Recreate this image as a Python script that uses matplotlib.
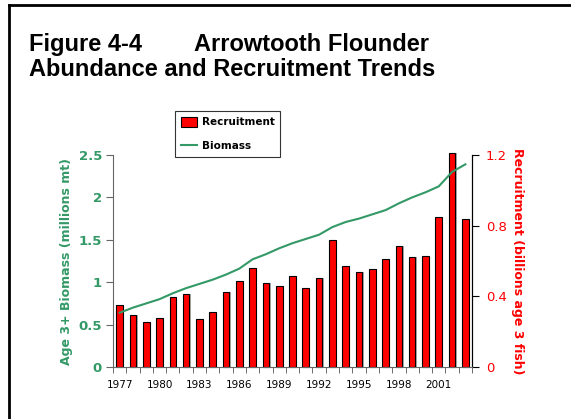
import matplotlib.pyplot as plt
import numpy as np

plt.rcParams['font.family'] = ['DejaVu Sans']

# data
years = list(range(1977, 2004))
recruitment = [0.350, 0.293, 0.255, 0.280, 0.397, 0.416, 0.274, 0.310, 0.425, 0.486,
               0.560, 0.474, 0.459, 0.516, 0.449, 0.504, 0.719, 0.569, 0.535, 0.557,
               0.614, 0.686, 0.623, 0.631, 0.847, 1.21, 0.838]
biomass = [0.64, 0.70, 0.75, 0.80, 0.87, 0.93, 0.98, 1.03, 1.09, 1.16,
           1.27, 1.33, 1.40, 1.46, 1.51, 1.56, 1.65, 1.71, 1.75, 1.80,
           1.85, 1.93, 2.00, 2.06, 2.13, 2.30, 2.39]
label_years = [1977, 1980, 1983, 1986, 1989, 1992, 1995, 1998, 2001]

GREEN = '#339966'
RED = '#ff0000'
W, H = 571, 419

fig = plt.figure(figsize=(5.71, 4.19), dpi=100)

# outer frame (left and top edges visible)
fig.add_artist(plt.Line2D([9/W, 9/W], [0, 1 - 5/H], color='black', lw=2, transform=fig.transFigure))
fig.add_artist(plt.Line2D([9/W, 1], [1 - 5/H, 1 - 5/H], color='black', lw=2, transform=fig.transFigure))

title_kw = dict(fontsize=17, fontweight='bold', family='Liberation Sans', va='baseline')
fig.text(29/W, 1 - 51/H, "Figure 4-4", **title_kw)
fig.text(194/W, 1 - 51/H, "Arrowtooth Flounder", **title_kw)
fig.text(29/W, 1 - 76/H, "Abundance and Recruitment Trends", **title_kw)

ax = fig.add_axes([113/W, 52/H, 359/W, 212/H])
ax2 = ax.twinx()

x = np.arange(len(years))
# faint shadow behind the bars
ax2.bar(x + 0.1, recruitment, width=0.5, color='#aaaaaa', linewidth=0, clip_on=False)
bars = ax2.bar(x, recruitment, width=0.5, color=RED, edgecolor='black', linewidth=0.8,
               clip_on=False, label='Recruitment')
line, = ax.plot(x, biomass, color=GREEN, lw=1.5, label='Biomass')

ax.set_zorder(ax2.get_zorder() + 1)
ax.patch.set_visible(False)

ax.set_xlim(-0.5, len(years) - 0.5)
ax.set_ylim(0, 2.5)
ax2.set_ylim(0, 1.2)

ax.set_yticks([0, 0.5, 1, 1.5, 2, 2.5])
ax.set_yticklabels(['0', '0.5', '1', '1.5', '2', '2.5'])
ax2.set_yticks([0, 0.4, 0.8, 1.2])
ax2.set_yticklabels(['0', '0.4', '0.8', '1.2'])

# x ticks: marks between bars, labels every third year
ax.set_xticks(np.arange(-0.5, len(years)), minor=True)
ax.set_xticks([years.index(y) for y in label_years])
ax.set_xticklabels([str(y) for y in label_years], fontsize=7.5)
ax.tick_params(axis='x', which='major', length=0, pad=9)
ax.tick_params(axis='x', which='minor', length=4, color='#555555')

for a in (ax, ax2):
    a.spines['top'].set_visible(False)
ax.spines['left'].set_color('#666666')
ax.spines['bottom'].set_color('#666666')
ax2.spines['left'].set_visible(False)
ax2.spines['bottom'].set_visible(False)

ax.tick_params(axis='y', colors='#666666', labelcolor=GREEN, labelsize=9.5, length=5, pad=3)
for t in ax.get_yticklabels():
    t.set_fontweight('bold')
ax2.tick_params(axis='y', labelcolor=RED, labelsize=9.5, length=5, pad=5)

ax.set_ylabel('Age 3+ Biomass (millions mt)', color=GREEN, fontsize=9, fontweight='bold', labelpad=4)
ax2.set_ylabel('Recruitment (billions age 3 fish)', color=RED, fontsize=9, fontweight='bold',
               rotation=270, labelpad=12)

leg = fig.legend([bars, line], ['Recruitment', 'Biomass'], loc='upper left',
                 bbox_to_anchor=(175/W, 1 - 111/H), frameon=True, fancybox=False,
                 edgecolor='black', prop={'weight': 'bold', 'size': 7.5},
                 handlelength=1.6, handleheight=1.1, borderpad=0.55, labelspacing=1.25,
                 handletextpad=0.4, borderaxespad=0)
leg.get_frame().set_linewidth(0.8)

fig.savefig('out.png', dpi=100)
